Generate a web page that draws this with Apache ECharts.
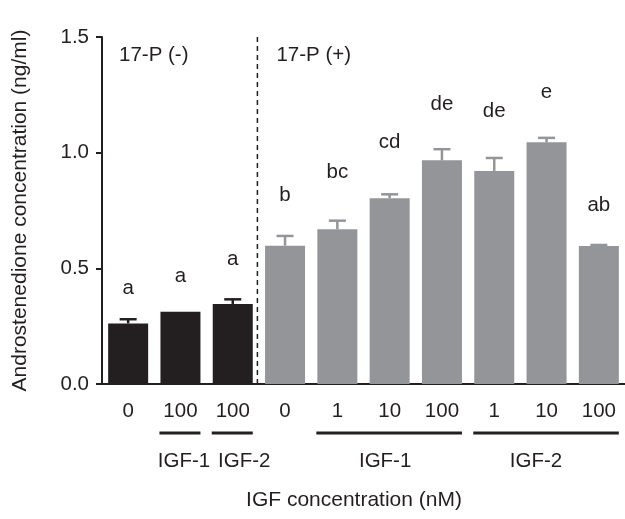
<!DOCTYPE html>
<html><head><meta charset="utf-8">
<script src="https://cdn.jsdelivr.net/npm/echarts@6/dist/echarts.min.js"></script>
<style>html,body{margin:0;padding:0;background:#fff}#c{width:625px;height:519px}</style>
</head><body><div id="c"></div>
<script>
const categories = ['0','100','100','0','1','10','100','1','10','100'];
const means = [0.262,0.312,0.346,0.598,0.669,0.803,0.967,0.921,1.045,0.597];
const sem = [0.018,0,0.020,0.042,0.037,0.017,0.048,0.056,0.019,0.004];
const letters = ['a','a','a','b','bc','cd','de','de','e','ab'];
const letterLevels = [0.415,0.464,0.540,0.817,0.914,1.045,1.209,1.180,1.261,0.774];
const treatment = ['-','-','-','+','+','+','+','+','+','+'];
const groupLabels = ['IGF-1','IGF-2','IGF-1','IGF-2'];
const groupStart = [1,2,4,7];
const groupEnd = [1,2,6,9];
const sectionLabels = ['17-P (-)','17-P (+)'];
const yTitle = 'Androstenedione concentration (ng/ml)';
const xTitle = 'IGF concentration (nM)';

const INK = '#231f20', GREY = '#939598';
const FONT = '"Liberation Sans", Arial, Helvetica, sans-serif';
const colorOf = i => treatment[i] === '-' ? INK : GREY;

const chart = echarts.init(document.getElementById('c'), null, {renderer:'canvas'});
chart.setOption({
  animation:false,
  backgroundColor:'#fff',
  textStyle:{fontFamily:FONT},
  grid:{left:102, top:37, width:525, height:347},
  xAxis:{
    type:'category', data:categories,
    axisLine:{lineStyle:{color:INK, width:2}},
    axisTick:{alignWithLabel:true, length:7, lineStyle:{color:INK, width:2}},
    axisLabel:{color:INK, fontSize:20.5, fontFamily:FONT, margin:17, interval:0}
  },
  yAxis:{
    type:'value', min:0, max:1.5, interval:0.5,
    name:yTitle, nameLocation:'middle', nameGap:71,
    nameTextStyle:{color:INK, fontSize:21, fontFamily:FONT},
    axisLine:{show:true, lineStyle:{color:INK, width:2}},
    axisTick:{show:true, length:6, lineStyle:{color:INK, width:2}},
    axisLabel:{color:INK, fontSize:20.5, fontFamily:FONT, margin:13, formatter:v=>v.toFixed(1)},
    splitLine:{show:false}
  },
  series:[
    {
      type:'bar', barWidth:40, z:2,
      data:means.map((v,i)=>({value:v, itemStyle:{color:colorOf(i)}}))
    },
    {
      type:'custom', z:3,
      data:means.map((v,i)=>[i, v, v+sem[i]]),
      renderItem:(params, api)=>{
        const i = api.value(0);
        if (sem[i] <= 0) return null;
        const p0 = api.coord([i, api.value(1)]);
        const p1 = api.coord([i, api.value(2)]);
        const col = colorOf(i);
        return {type:'group', children:[
          {type:'line', shape:{x1:p0[0], y1:p0[1], x2:p1[0], y2:p1[1]}, style:{stroke:col, lineWidth:2.5}},
          {type:'line', shape:{x1:p1[0]-8.5, y1:p1[1], x2:p1[0]+8.5, y2:p1[1]}, style:{stroke:col, lineWidth:2.5}}
        ]};
      }
    },
    {
      type:'custom', z:4,
      data:letterLevels.map((v,i)=>[i, v]),
      renderItem:(params, api)=>{
        const i = api.value(0);
        const p = api.coord([i, api.value(1)]);
        return {type:'text', x:p[0], y:p[1], style:{text:letters[i], fill:INK, font:'20.5px '+FONT, textAlign:'center', textVerticalAlign:'middle'}};
      }
    }
  ]
});

function px(i){ return chart.convertToPixel({xAxisIndex:0}, i); }
const y0 = chart.convertToPixel({yAxisIndex:0}, 0);
const yTop = chart.convertToPixel({yAxisIndex:0}, 1.5);
const g = [];
const divX = (px(2)+px(3))/2 - 1.5;
g.push({type:'line', shape:{x1:divX, y1:yTop, x2:divX, y2:y0}, style:{stroke:INK, lineWidth:1.5, lineDash:[5,4]}});
g.push({type:'text', left:119, top:45, style:{text:sectionLabels[0], fill:INK, font:'20.5px '+FONT}});
g.push({type:'text', left:divX+19, top:45, style:{text:sectionLabels[1], fill:INK, font:'20.5px '+FONT}});
const labelShift = [4, 12, -4, -10];
for (let k=0;k<groupLabels.length;k++){
  const a = px(groupStart[k]) - 21, b = px(groupEnd[k]) + 20;
  g.push({type:'line', shape:{x1:a, y1:y0+49, x2:b, y2:y0+49}, style:{stroke:INK, lineWidth:3}});
  g.push({type:'text', x:(a+b)/2 + labelShift[k], y:y0+77, style:{text:groupLabels[k], fill:INK, font:'20.5px '+FONT, textAlign:'center', textVerticalAlign:'middle'}});
}
g.push({type:'text', x:354, y:500, style:{text:xTitle, fill:INK, font:'21px '+FONT, textAlign:'center', textVerticalAlign:'middle'}});
chart.setOption({graphic:g});
</script></body></html>
